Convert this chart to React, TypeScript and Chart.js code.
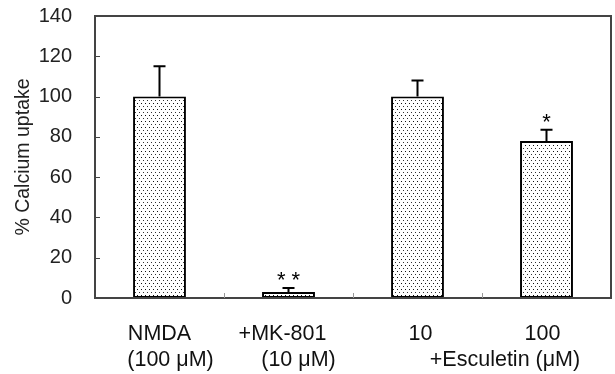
import React, { useEffect, useRef } from "react";
import { Chart, registerables } from "chart.js";

Chart.register(...registerables);

const categories = ["NMDA", "+MK-801", "10", "100"];
const values = [100, 3, 100, 78];
const errors = [15, 2, 8, 5.5];
const significance = ["", "* *", "", "*"];
const yTicks = [0, 20, 40, 60, 80, 100, 120, 140];
const labelLine1 = ["NMDA", "+MK-801", "10", "100"];
const labelLine2 = ["(100 μM)", "(10 μM)", "", ""];
const groupLabel = "+Esculetin (μM)";

function makePattern(): CanvasPattern | string {
  const c = document.createElement("canvas");
  c.width = 4;
  c.height = 6;
  const g = c.getContext("2d");
  if (!g) return "#fff";
  g.fillStyle = "#ffffff";
  g.fillRect(0, 0, 4, 6);
  g.fillStyle = "#111";
  g.fillRect(1, 1, 1, 1);
  g.fillStyle = "#333";
  g.fillRect(3, 4, 1, 1);
  const p = g.createPattern(c, "repeat");
  return p || "#fff";
}

const FONT = "'Liberation Sans', Arial, sans-serif";

const decorPlugin = {
  id: "decor",
  afterDatasetsDraw(chart: any) {
    const ctx = chart.ctx;
    const meta = chart.getDatasetMeta(0);
    const y = chart.scales.y;
    const x = chart.scales.x;
    const area = chart.chartArea;
    ctx.save();
    // error bars
    ctx.strokeStyle = "#000";
    ctx.lineWidth = 2;
    meta.data.forEach((bar: any, i: number) => {
      const top = y.getPixelForValue(values[i] + errors[i]);
      ctx.beginPath();
      ctx.moveTo(bar.x, bar.y);
      ctx.lineTo(bar.x, top);
      ctx.moveTo(bar.x - 6, top);
      ctx.lineTo(bar.x + 6, top);
      ctx.stroke();
      if (significance[i]) {
        ctx.fillStyle = "#000";
        ctx.font = `22px ${FONT}`;
        ctx.textAlign = "center";
        ctx.textBaseline = "middle";
        ctx.fillText(significance[i], bar.x, top - 7);
      }
    });
    // frame
    ctx.strokeStyle = "#444";
    ctx.lineWidth = 2;
    ctx.strokeRect(area.left, area.top, area.right - area.left, area.bottom - area.top);
    // y tick marks (inward)
    ctx.lineWidth = 1;
    ctx.strokeStyle = "#444";
    yTicks.forEach((t) => {
      const py = Math.round(y.getPixelForValue(t)) + 0.5;
      ctx.beginPath();
      ctx.moveTo(area.left, py);
      ctx.lineTo(area.left + 5, py);
      ctx.stroke();
    });
    // x tick marks between categories
    ctx.strokeStyle = "#999";
    for (let i = 1; i < categories.length; i++) {
      const px = Math.round((x.getPixelForValue(i - 1) + x.getPixelForValue(i)) / 2) + 0.5;
      ctx.beginPath();
      ctx.moveTo(px, area.bottom);
      ctx.lineTo(px, area.bottom - 5);
      ctx.stroke();
    }
    // x labels
    ctx.fillStyle = "#111";
    ctx.font = `21.5px ${FONT}`;
    ctx.textAlign = "center";
    ctx.textBaseline = "middle";
    const off1 = [0, -6, 3, -4];
    const off2 = [11, 10, 0, 0];
    categories.forEach((_, i) => {
      const cx = x.getPixelForValue(i);
      ctx.fillText(labelLine1[i], cx + off1[i], area.bottom + 36);
      if (labelLine2[i]) ctx.fillText(labelLine2[i], cx + off2[i], area.bottom + 62);
    });
    const gx = (x.getPixelForValue(2) + x.getPixelForValue(3)) / 2 + 23;
    ctx.fillText(groupLabel, gx, area.bottom + 62);
    ctx.restore();
  },
};

export default function App() {
  const ref = useRef<HTMLCanvasElement>(null);
  useEffect(() => {
    if (!ref.current) return;
    const chart = new Chart(ref.current, {
      type: "bar",
      data: {
        labels: categories,
        datasets: [
          {
            data: values,
            backgroundColor: makePattern() as any,
            borderColor: "#000",
            borderWidth: 2,
            borderSkipped: false,
            categoryPercentage: 1,
            barPercentage: 0.41,
          },
        ],
      },
      options: {
        animation: false,
        responsive: false,
        maintainAspectRatio: false,
        layout: { padding: { top: 16, right: 4, left: 0, bottom: 0 } },
        plugins: { legend: { display: false }, tooltip: { enabled: false } },
        scales: {
          x: {
            grid: { display: false },
            border: { display: false },
            ticks: { display: false },
            afterFit: (s: any) => {
              s.height = 76;
              s.paddingLeft = 0;
              s.paddingRight = 0;
            },
          },
          y: {
            min: 0,
            max: 140,
            grid: { display: false, drawTicks: false },
            border: { display: false },
            ticks: {
              stepSize: 20,
              padding: 23,
              color: "#222",
              font: { size: 20, family: FONT },
            },
            title: {
              display: true,
              text: "% Calcium uptake",
              color: "#222",
              font: { size: 19.5, family: FONT },
              padding: { top: 12, bottom: 0 },
            },
            afterFit: (s: any) => {
              s.width = 95;
              s.paddingTop = 0;
              s.paddingBottom = 0;
            },
          },
        },
      },
      plugins: [decorPlugin],
    });
    return () => chart.destroy();
  }, []);
  return (
    <div style={{ position: "fixed", left: 0, top: 0, width: 615, height: 374, background: "#fff" }}>
      <canvas ref={ref} width={615} height={374} />
    </div>
  );
}
